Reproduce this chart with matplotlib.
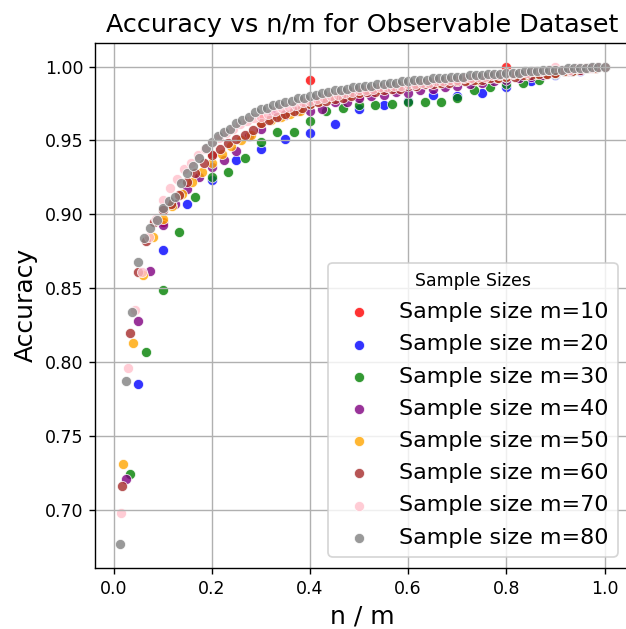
import numpy as np
import matplotlib
matplotlib.use("Agg")
import matplotlib.pyplot as plt

sample_sizes = [10, 20, 30, 40, 50, 60, 70, 80]
colors = ["red", "blue", "green", "purple", "orange", "brown", "pink", "gray"]

acc_m10 = [0.895, 0.940, 0.965, 0.991, 0.980, 0.988, 0.990, 1.000, 0.998, 1.000]

acc_m20 = [0.785, 0.876, 0.907, 0.923, 0.937, 0.944, 0.951, 0.955, 0.961, 0.971,
           0.974, 0.977, 0.981, 0.980, 0.982, 0.986, 0.990, 0.994, 0.997, 1.000]

acc_m30 = [0.724, 0.807, 0.849, 0.888, 0.912, 0.925, 0.929, 0.938, 0.949, 0.956,
           0.956, 0.963, 0.970, 0.972, 0.974, 0.974, 0.975, 0.976, 0.976, 0.976,
           0.979, 0.984, 0.986, 0.988, 0.989, 0.991, 0.995, 0.997, 0.999, 1.000]

acc_m40 = [0.721, 0.828, 0.862, 0.893, 0.907, 0.917, 0.925, 0.932, 0.937, 0.943,
           0.953, 0.958, 0.967, 0.967, 0.970, 0.970, 0.971, 0.976, 0.976, 0.979,
           0.980, 0.981, 0.983, 0.982, 0.984, 0.985, 0.986, 0.987, 0.988, 0.989,
           0.990, 0.991, 0.992, 0.993, 0.994, 0.996, 0.997, 0.998, 0.999, 1.000]

acc_m50 = [0.731, 0.813, 0.859, 0.885, 0.897, 0.906, 0.914, 0.922, 0.929, 0.935,
           0.941, 0.946, 0.950, 0.954, 0.962, 0.964, 0.966, 0.968, 0.970, 0.975,
           0.977, 0.979, 0.980, 0.981, 0.983, 0.984, 0.985, 0.986, 0.987, 0.988,
           0.988, 0.989, 0.989, 0.990, 0.990, 0.991, 0.991, 0.992, 0.992, 0.993,
           0.994, 0.994, 0.995, 0.995, 0.996, 0.997, 0.998, 0.999, 0.999, 1.000]

acc_m60 = [0.716, 0.820, 0.861, 0.882, 0.895, 0.903, 0.907, 0.913, 0.922, 0.928,
           0.935, 0.940, 0.944, 0.948, 0.951, 0.954, 0.957, 0.962, 0.964, 0.966,
           0.968, 0.970, 0.972, 0.975, 0.976, 0.977, 0.978, 0.979, 0.980, 0.982,
           0.983, 0.983, 0.984, 0.985, 0.985, 0.987, 0.987, 0.988, 0.988, 0.989,
           0.989, 0.990, 0.990, 0.991, 0.991, 0.992, 0.992, 0.993, 0.993, 0.994,
           0.994, 0.995, 0.995, 0.996, 0.997, 0.997, 0.998, 0.999, 0.999, 1.000]

acc_m70 = [0.698, 0.796, 0.835, 0.861, 0.885, 0.897, 0.910, 0.918, 0.924, 0.931,
           0.935, 0.940, 0.944, 0.948, 0.952, 0.955, 0.958, 0.961, 0.963, 0.965,
           0.966, 0.968, 0.970, 0.972, 0.973, 0.974, 0.976, 0.977, 0.978, 0.979,
           0.980, 0.981, 0.982, 0.983, 0.984, 0.984, 0.985, 0.986, 0.986, 0.987,
           0.987, 0.988, 0.988, 0.989, 0.989, 0.990, 0.990, 0.991, 0.991, 0.992,
           0.992, 0.993, 0.993, 0.994, 0.994, 0.995, 0.995, 0.996, 0.996, 0.997,
           0.997, 0.998, 1.000, 0.998, 0.998, 0.999, 0.999, 0.999, 1.000, 1.000]

acc_m80 = [0.677, 0.787, 0.834, 0.868, 0.884, 0.891, 0.896, 0.904, 0.909, 0.912,
           0.921, 0.928, 0.933, 0.938, 0.945, 0.949, 0.953, 0.956, 0.958, 0.962,
           0.964, 0.966, 0.969, 0.971, 0.972, 0.974, 0.975, 0.976, 0.977, 0.979,
           0.979, 0.980, 0.981, 0.982, 0.983, 0.984, 0.984, 0.985, 0.986, 0.986,
           0.987, 0.987, 0.988, 0.988, 0.989, 0.989, 0.990, 0.990, 0.991, 0.991,
           0.991, 0.992, 0.992, 0.992, 0.993, 0.993, 0.993, 0.994, 0.994, 0.994,
           0.995, 0.995, 0.995, 0.996, 0.996, 0.996, 0.997, 0.997, 0.997, 0.998,
           0.998, 0.998, 0.998, 0.999, 0.999, 0.999, 0.999, 1.000, 1.000, 1.000]

accuracies = [acc_m10, acc_m20, acc_m30, acc_m40, acc_m50, acc_m60, acc_m70, acc_m80]

fig = plt.figure(figsize=(626 / 125, 629 / 125), dpi=125)
ax = fig.add_axes([0.1525, 0.0975, 0.852, 0.8345])

for m, acc, c in zip(sample_sizes, accuracies, colors):
    n = np.arange(1, m + 1)
    ax.scatter(n / m, acc, s=34, color=c, alpha=0.8, edgecolors="white",
               linewidths=0.5, label=f"Sample size m={m}")

ax.set_title("Accuracy vs n/m for Observable Dataset", fontsize=14.6)
ax.set_xlabel("n / m", fontsize=14.4)
ax.set_ylabel("Accuracy", fontsize=14.4)
ax.tick_params(labelsize=10)
ax.grid(True)
ax.legend(title="Sample Sizes", fontsize=12.8, title_fontsize=10,
          labelspacing=0.55, loc="lower right")

fig.savefig("out.png", dpi=125)
